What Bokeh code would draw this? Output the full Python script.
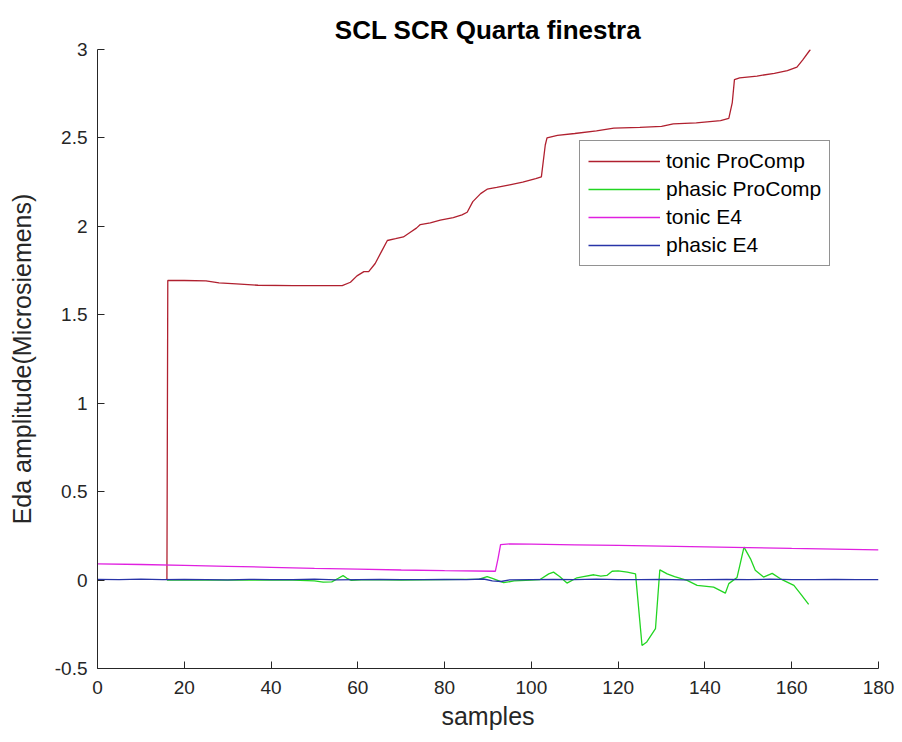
from bokeh.plotting import figure
from bokeh.models import Range1d, FixedTicker, Legend, LegendItem, ColumnDataSource
from bokeh.embed import file_html
from bokeh.resources import INLINE

# --- data -------------------------------------------------------------
tonic_pc_x = [16, 16.2, 20, 25, 28, 32, 37, 45, 52, 56.4, 58.3, 59.8, 61.4, 62.5,
              64, 65.5, 66.8, 68.7, 70.5, 72.1, 73.5, 74.4, 76.7, 79, 82, 84, 85.2,
              86.5, 88.3, 89.8, 92, 95, 98, 101, 102.3, 103.2, 103.6, 106, 110, 115,
              119, 125, 130, 132.7, 138, 143.6, 145.5, 146.3, 146.8, 148, 152, 156,
              159, 161.2, 162.5, 164.3]
tonic_pc_y = [0, 1.694, 1.694, 1.692, 1.68, 1.675, 1.667, 1.665, 1.665, 1.665,
              1.684, 1.72, 1.744, 1.744, 1.79, 1.86, 1.92, 1.93, 1.94, 1.967, 1.99,
              2.01, 2.02, 2.035, 2.05, 2.065, 2.08, 2.14, 2.185, 2.21, 2.22, 2.235,
              2.25, 2.27, 2.28, 2.46, 2.50, 2.515, 2.525, 2.54, 2.555, 2.56, 2.565,
              2.58, 2.585, 2.598, 2.61, 2.70, 2.83, 2.84, 2.85, 2.865, 2.88, 2.90,
              2.94, 3.0]

phasic_pc_x = [16, 30, 45, 50, 52, 54, 55.5, 56.6, 57.5, 58.5, 62, 70, 80, 88, 89.8,
               91, 93.6, 96, 100, 102, 104, 105.1, 106.5, 108.2, 110.5, 112, 114.4,
               116, 117.4, 118.6, 120, 122.1, 124, 125.5, 126.6, 128.6, 129.6, 131.3,
               133, 135.9, 138.2, 142, 144.7, 145.5, 147.4, 148.2, 149, 150.5, 151.6,
               153.5, 155.5, 157.4, 160.5, 162, 163.9]
phasic_pc_y = [0, 0, 0, -0.005, -0.012, -0.01, 0.01, 0.025, 0.01, -0.002, 0.002, 0,
               0.003, 0.005, 0.02, 0.01, -0.015, -0.005, 0, 0.003, 0.035, 0.045, 0.02,
               -0.017, 0.013, 0.02, 0.03, 0.022, 0.026, 0.05, 0.052, 0.045, 0.035,
               -0.37, -0.35, -0.275, 0.058, 0.035, 0.02, -0.002, -0.03, -0.04, -0.074,
               -0.02, 0.015, 0.1, 0.186, 0.12, 0.055, 0.017, 0.038, 0.007, -0.03,
               -0.077, -0.138]

tonic_e4_x = [0, 10, 20, 30, 40, 50, 60, 70, 80, 91.7, 92.3, 92.9, 95, 100, 110, 120,
              130, 140, 150, 160, 170, 180]
tonic_e4_y = [0.092, 0.088, 0.083, 0.078, 0.072, 0.066, 0.062, 0.057, 0.053, 0.05,
              0.12, 0.2, 0.205, 0.203, 0.199, 0.196, 0.192, 0.188, 0.184, 0.179,
              0.175, 0.171]

phasic_e4_x = [0, 5, 10, 15, 20, 25, 30, 35, 40, 45, 50, 55, 60, 65, 70, 75, 80, 85,
               89, 91, 93, 95, 100, 105, 110, 115, 120, 125, 130, 135, 140, 145, 150,
               155, 160, 165, 170, 175, 180]
phasic_e4_y = [0.004, 0.003, 0.005, 0.002, 0.004, 0.003, 0.001, 0.004, 0.002, 0.003,
               0.005, 0.001, 0.003, 0.004, 0.002, 0.003, 0.004, 0.002, 0.006, -0.004,
               -0.008, 0.001, 0.003, 0.004, 0.002, 0.005, 0.003, 0.002, 0.004, 0.001,
               0.003, 0.004, 0.002, 0.005, 0.003, 0.002, 0.004, 0.003, 0.003]

x_ticks = [0, 20, 40, 60, 80, 100, 120, 140, 160, 180]
y_ticks = [-0.5, 0, 0.5, 1, 1.5, 2, 2.5, 3]
y_tick_labels = ["-0.5", "0", "0.5", "1", "1.5", "2", "2.5", "3"]

series_names = ["tonic ProComp", "phasic ProComp", "tonic E4", "phasic E4"]
series_colors = ["#B0202F", "#22D522", "#E020E0", "#2834A8"]

# --- figure -----------------------------------------------------------
FONT = "Liberation Sans"
INK = "#262626"

p = figure(width=902, height=742, output_backend="svg", toolbar_location=None,
           x_range=Range1d(0, 180), y_range=Range1d(-0.5, 3),
           min_border_left=97, min_border_right=24, min_border_top=49,
           min_border_bottom=74, title="SCL SCR Quarta finestra")
p.outline_line_color = None
p.background_fill_color = "white"
p.border_fill_color = "white"
p.xgrid.visible = False
p.ygrid.visible = False

p.title.align = "center"
p.title.text_font = FONT
p.title.text_font_size = "26px"
p.title.text_font_style = "bold"
p.title.text_color = "#000000"
p.title.standoff = 9

for ax in (p.xaxis[0], p.yaxis[0]):
    ax.axis_line_color = INK
    ax.axis_line_width = 1
    ax.major_tick_line_color = INK
    ax.major_tick_in = 7
    ax.major_tick_out = 0
    ax.minor_tick_line_color = None
    ax.major_label_text_font = FONT
    ax.major_label_text_font_size = "19px"
    ax.major_label_text_color = INK
    ax.axis_label_text_font = FONT
    ax.axis_label_text_font_size = "25px"
    ax.axis_label_text_font_style = "normal"
    ax.axis_label_text_color = INK

p.xaxis.ticker = FixedTicker(ticks=x_ticks)
p.xaxis.major_label_standoff = 12
p.xaxis.axis_label = "samples"
p.xaxis.axis_label_standoff = 5

p.yaxis.ticker = FixedTicker(ticks=y_ticks)
p.yaxis.major_label_overrides = dict(zip(y_ticks, y_tick_labels))
p.yaxis.major_label_standoff = 10
p.yaxis.axis_label = "Eda amplitude(Microsiemens)"
p.yaxis.axis_label_standoff = 16

# --- lines ------------------------------------------------------------
xs = [tonic_pc_x, phasic_pc_x, tonic_e4_x, phasic_e4_x]
ys = [tonic_pc_y, phasic_pc_y, tonic_e4_y, phasic_e4_y]
items = []
for name, color, x, y in zip(series_names, series_colors, xs, ys):
    src = ColumnDataSource(dict(x=x, y=y))
    r = p.line("x", "y", source=src, line_color=color, line_width=1.3)
    items.append(LegendItem(label=name, renderers=[r]))

legend = Legend(items=items, location=(482, 402))
legend.label_text_font = FONT
legend.label_text_font_size = "21px"
legend.label_text_color = "#000000"
legend.glyph_width = 72
legend.glyph_height = 20
legend.label_height = 20
legend.label_standoff = 6
legend.spacing = 4
legend.padding = 8
legend.margin = 0
legend.border_line_color = INK
legend.border_line_width = 1
legend.background_fill_color = "white"
legend.background_fill_alpha = 1.0
p.add_layout(legend)

open("out.html", "w").write(file_html(p, INLINE))
